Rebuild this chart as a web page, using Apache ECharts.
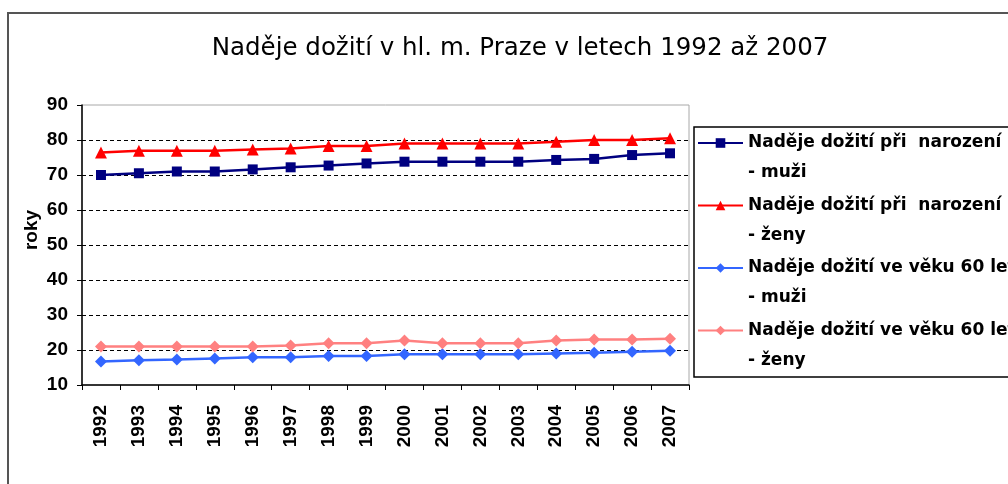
<!DOCTYPE html>
<html>
<head>
<meta charset="utf-8">
<script src="https://cdn.jsdelivr.net/npm/echarts@6/dist/echarts.min.js"></script>
<style>
  html, body { margin: 0; padding: 0; overflow: hidden; background: #fff; }
  #chart { position: absolute; left: 0; top: 0; width: 1100px; height: 484px; }
</style>
</head>
<body>
<div id="chart"></div>
<script>
// roky
var years = ['1992', '1993', '1994', '1995', '1996', '1997', '1998', '1999',
             '2000', '2001', '2002', '2003', '2004', '2005', '2006', '2007'];

// naděje dožití při narození
var muziNarozeni = [70.0, 70.5, 71.0, 71.0, 71.6, 72.2, 72.7, 73.3, 73.8, 73.8, 73.8, 73.8, 74.3, 74.6, 75.7, 76.2];
var zenyNarozeni = [76.4, 76.9, 76.9, 76.9, 77.3, 77.6, 78.3, 78.3, 79.0, 79.0, 79.0, 79.0, 79.5, 80.0, 80.0, 80.5];
// naděje dožití ve věku 60 let
var muzi60 = [16.7, 17.1, 17.3, 17.6, 17.9, 17.9, 18.3, 18.3, 18.8, 18.8, 18.8, 18.8, 19.0, 19.2, 19.5, 19.8];
var zeny60 = [21.0, 21.0, 21.0, 21.0, 21.0, 21.3, 21.9, 21.9, 22.7, 21.9, 21.9, 21.9, 22.7, 23.0, 23.0, 23.2];

var seriesNames = [
    'Naděje dožití při  narození\n- muži',
    'Naděje dožití při  narození\n- ženy',
    'Naděje dožití ve věku 60 let\n- muži',
    'Naděje dožití ve věku 60 let\n- ženy'
];

var chart = echarts.init(document.getElementById('chart'));

function lineSeries(name, data, color, symbol, size) {
    return {
        name: name,
        type: 'line',
        data: data,
        symbol: symbol,
        symbolSize: size,
        color: color,
        lineStyle: { color: color, width: 2.5 },
        itemStyle: { color: color },
        animation: false
    };
}

var option = {
    animation: false,
    title: {
        text: 'Naděje dožití v hl. m. Praze v letech 1992 až 2007',
        left: 515,
        textAlign: 'center',
        top: 31,
        textStyle: {
            fontFamily: 'DejaVu Sans',
            fontWeight: 'normal',
            fontSize: 24.5,
            color: '#000'
        }
    },
    graphic: [
        {
            type: 'rect',
            shape: { x: 8, y: 13, width: 1200, height: 600 },
            style: { fill: 'none', stroke: '#555', lineWidth: 2 },
            silent: true
        },
        {
            type: 'rect',
            shape: { x: 694, y: 127, width: 500, height: 250 },
            style: { fill: 'none', stroke: '#000', lineWidth: 1.5 },
            silent: true
        }
    ],
    legend: {
        orient: 'vertical',
        left: 697,
        top: 98,
        padding: 0,
        itemWidth: 45,
        itemHeight: 12,
        itemGap: -27.5,
        data: seriesNames,
        // prázdný první řádek, aby ikona seděla u prvního řádku textu
        formatter: function (name) { return '\n' + name; },
        textStyle: {
            fontFamily: 'DejaVu Sans',
            fontWeight: 'bold',
            fontSize: 17,
            lineHeight: 30,
            color: '#000'
        }
    },
    grid: {
        left: 82,
        top: 105,
        width: 607,
        height: 280,
        show: true,
        borderColor: '#a8a8a8',
        borderWidth: 1
    },
    xAxis: {
        type: 'category',
        data: years,
        boundaryGap: true,
        axisLine: { lineStyle: { color: '#000', width: 1.5 } },
        axisTick: { show: true, length: 5, lineStyle: { color: '#000' } },
        axisLabel: {
            rotate: 90,
            margin: 20,
            interval: 0,
            fontFamily: 'Liberation Sans',
            fontWeight: 'bold',
            fontSize: 19,
            color: '#000'
        },
        splitLine: { show: false }
    },
    yAxis: {
        type: 'value',
        min: 10,
        max: 90,
        interval: 10,
        name: 'roky',
        nameLocation: 'middle',
        nameRotate: 90,
        nameGap: 41,
        nameMoveOverlap: false,
        nameTextStyle: {
            fontFamily: 'Liberation Sans',
            fontWeight: 'bold',
            fontSize: 19,
            color: '#000',
            padding: [0, 0, 0, 30]
        },
        axisLine: { show: true, lineStyle: { color: '#000', width: 1.5 } },
        axisTick: { show: true, length: 5, lineStyle: { color: '#000' } },
        axisLabel: {
            margin: 14,
            fontFamily: 'Liberation Sans',
            fontWeight: 'bold',
            fontSize: 19,
            color: '#000'
        },
        splitLine: {
            show: true,
            showMinLine: false,
            showMaxLine: false,
            lineStyle: { color: '#000', type: [4, 3], width: 1 }
        }
    },
    series: [
        lineSeries(seriesNames[0], muziNarozeni, '#000080', 'rect', 10),
        lineSeries(seriesNames[1], zenyNarozeni, '#ff0000', 'triangle', 12),
        lineSeries(seriesNames[2], muzi60, '#3366ff', 'diamond', 12),
        lineSeries(seriesNames[3], zeny60, '#ff8080', 'diamond', 12)
    ]
};

chart.setOption(option);
</script>
</body>
</html>
